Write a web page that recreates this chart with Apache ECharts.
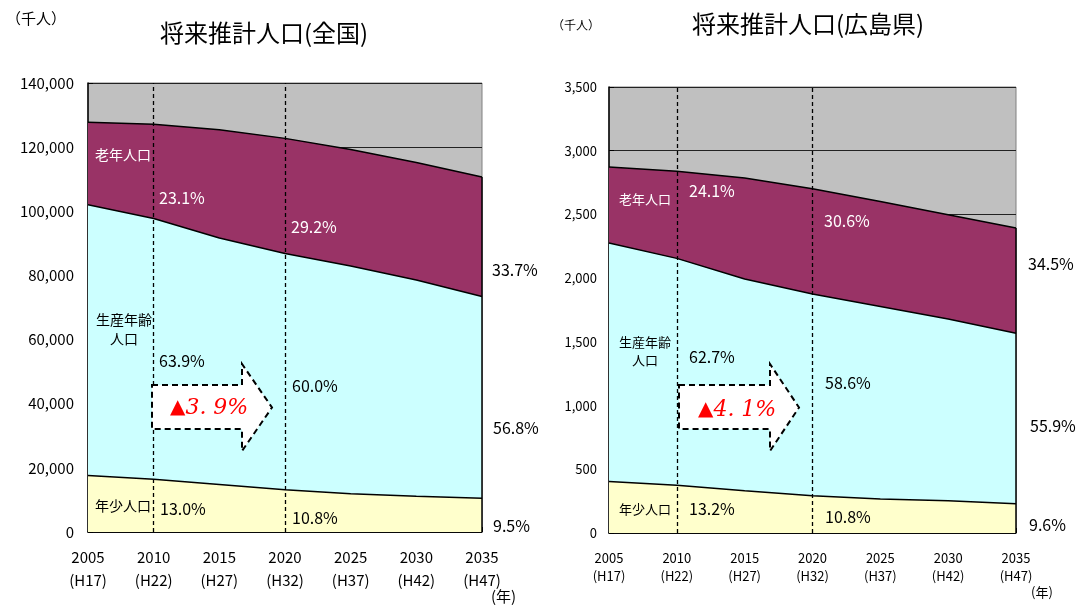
<!DOCTYPE html>
<html>
<head>
<meta charset="utf-8">
<script src="https://cdn.jsdelivr.net/npm/echarts@6/dist/echarts.min.js"></script>
<style>
html,body{margin:0;padding:0;background:#fff;}
#c{width:1077px;height:606px;}
</style>
</head>
<body>
<div id="c"></div>
<script>
// ---- data ----
const years = ['2005','2010','2015','2020','2025','2030','2035'];
const eras = ['H17','H22','H27','H32','H37','H42','H47'];
const seriesNames = ['年少人口','生産年齢人口','老年人口'];
// 全国 (千人)
const natYoung   = [17585,16479,14841,13201,11956,11150,10512];
const natWorking = [84422,81285,76807,73635,70960,67404,62919];
const natOld     = [25761,29412,33781,35899,36354,36670,37249];
// 広島県 (千人)
const hirYoung   = [405,375,332,292,267,253,230];
const hirWorking = [1871,1780,1661,1584,1511,1427,1338];
const hirOld     = [596,684,793,826,824,818,826];
// 割合ラベル (2010, 2020, 2035)
const natPctOld     = ['23.1%','29.2%','33.7%'];
const natPctWorking = ['63.9%','60.0%','56.8%'];
const natPctYoung   = ['13.0%','10.8%','9.5%'];
const hirPctOld     = ['24.1%','30.6%','34.5%'];
const hirPctWorking = ['62.7%','58.6%','55.9%'];
const hirPctYoung   = ['13.2%','10.8%','9.6%'];
const natChange = '3. 9%';
const hirChange = '4. 1%';

const FONT = 'Noto Sans CJK JP';
const colors = ['#FFFFCC','#CCFFFF','#993366'];

function makeSeries(idx, arrs, stackName){
  const last = arrs.length - 1;
  return arrs.map((d, i) => {
    const s = {
      type:'line', name: seriesNames[i], stack: stackName,
      xAxisIndex: idx, yAxisIndex: idx,
      data: d, symbol:'none', smooth:false,
      lineStyle:{color:'#000', width:1.5},
      areaStyle:{color: colors[i], opacity:1},
      silent:true, animation:false
    };
    if (i === last) {
      const total = arrs.reduce((acc, a) => acc + a[a.length-1], 0);
      s.markLine = {
        silent:true, symbol:'none', animation:false,
        label:{show:false},
        data:[
          {xAxis:'2010', lineStyle:{color:'#000', type:[4,3], width:1.3}},
          {xAxis:'2020', lineStyle:{color:'#000', type:[4,3], width:1.3}},
          [{coord:[years[years.length-1], 0], lineStyle:{color:'#000', type:'solid', width:1.5}},
           {coord:[years[years.length-1], total]}]
        ]
      };
    }
    return s;
  });
}

function xAxisCfg(idx, fs, lh, margin){
  return {
    type:'category', gridIndex: idx, data: years, boundaryGap:false,
    axisLine:{lineStyle:{color:'#000', width:1.5}},
    axisTick:{inside:true, length:5, lineStyle:{color:'#000'}},
    axisLabel:{color:'#000', fontFamily:FONT, fontSize:fs, lineHeight:lh, margin:margin,
      formatter:(v,i)=> v + '\n(' + eras[i] + ')'},
    splitLine:{show:false}
  };
}
function yAxisCfg(idx, max, interval, fs, margin){
  return {
    type:'value', gridIndex: idx, min:0, max:max, interval:interval,
    axisLine:{show:true, lineStyle:{color:'#000', width:1.5}},
    axisTick:{show:true, inside:true, length:5, lineStyle:{color:'#000'}},
    axisLabel:{color:'#000', fontFamily:FONT, fontSize:fs, margin:margin,
      formatter:(v)=> v.toLocaleString('en-US')},
    splitLine:{show:true, lineStyle:{color:'#222', width:1}}
  };
}

function txt(x, y, text, opt){
  opt = opt || {};
  return {type:'text', x:x, y:y, silent:true, z:100,
    style:{text:text, fill:opt.color||'#000', fontFamily:opt.font||FONT, fontSize:opt.size||16,
      textAlign:opt.align||'left', textVerticalAlign:'middle', lineHeight:opt.lh||undefined,
      fontStyle:opt.italic?'italic':'normal', fontWeight:opt.bold?'bold':'normal'}};
}
function arrow(x0, xh, xt, yTop, yBot, yHTop, yHBot){
  return {type:'polygon', silent:true, z:90,
    shape:{points:[[x0,yTop],[xh,yTop],[xh,yHTop],[xt,(yHTop+yHBot)/2],[xh,yHBot],[xh,yBot],[x0,yBot]]},
    style:{fill:'#fff', stroke:'#000', lineWidth:2, lineDash:[6,4]}};
}
function changeText(x, y, val){
  return {type:'text', x:x, y:y, silent:true, z:100,
    style:{text:'{t|▲}{n|' + val + '}', textVerticalAlign:'middle',
      rich:{
        t:{fill:'#ff0000', fontSize:20, fontFamily:'DejaVu Sans'},
        n:{fill:'#ff0000', fontSize:22, fontFamily:'DejaVu Serif', fontStyle:'italic'}
      }}};
}

const chart = echarts.init(document.getElementById('c'), null, {renderer:'canvas'});
chart.setOption({
  backgroundColor:'#fff',
  animation:false,
  grid:[
    {left:88, top:83, width:394, height:449, show:true, backgroundColor:'#C0C0C0', borderColor:'#808080', borderWidth:1},
    {left:609, top:87, width:407, height:446, show:true, backgroundColor:'#C0C0C0', borderColor:'#808080', borderWidth:1}
  ],
  xAxis:[ xAxisCfg(0, 15, 23, 14), xAxisCfg(1, 13, 18, 16) ],
  yAxis:[ yAxisCfg(0, 140000, 20000, 15, 14), yAxisCfg(1, 3500, 500, 13, 12) ],
  series: [].concat(
    makeSeries(0, [natYoung, natWorking, natOld], 'nat'),
    makeSeries(1, [hirYoung, hirWorking, hirOld], 'hir')
  ),
  graphic:[
    // titles & units
    txt(160, 33, '将来推計人口(全国)', {size:24}),
    txt(692, 24, '将来推計人口(広島県)', {size:24}),
    txt(6, 18, '（千人）', {size:15}),
    txt(552, 25, '（千人）', {size:12}),
    txt(491, 596, '(年)', {size:15}),
    txt(1031, 592, '(年)', {size:13}),
    // national labels
    txt(95, 155, seriesNames[2], {color:'#fff', size:14}),
    txt(124, 329, '生産年齢\n人口', {size:14, align:'center', lh:19}),
    txt(95, 506, seriesNames[0], {size:14}),
    txt(159, 198, natPctOld[0], {color:'#fff'}),
    txt(291, 227, natPctOld[1], {color:'#fff'}),
    txt(492, 270, natPctOld[2]),
    txt(159, 361, natPctWorking[0]),
    txt(292, 386, natPctWorking[1]),
    txt(493, 428, natPctWorking[2]),
    txt(160, 509, natPctYoung[0]),
    txt(292, 518, natPctYoung[1]),
    txt(493, 526, natPctYoung[2]),
    arrow(152, 242, 272, 385, 429, 364, 451),
    changeText(170, 408, natChange),
    // hiroshima labels
    txt(619, 199, seriesNames[2], {color:'#fff', size:13}),
    txt(645, 351, '生産年齢\n人口', {size:13, align:'center', lh:18}),
    txt(619, 509, seriesNames[0], {size:13}),
    txt(689, 191, hirPctOld[0], {color:'#fff'}),
    txt(824, 221, hirPctOld[1], {color:'#fff'}),
    txt(1028, 264, hirPctOld[2]),
    txt(689, 357, hirPctWorking[0]),
    txt(825, 383, hirPctWorking[1]),
    txt(1030, 426, hirPctWorking[2]),
    txt(689, 509, hirPctYoung[0]),
    txt(825, 517, hirPctYoung[1]),
    txt(1029, 525, hirPctYoung[2]),
    arrow(679, 770, 799, 385, 429, 364, 451),
    changeText(698, 410, hirChange)
  ]
});
</script>
</body>
</html>
